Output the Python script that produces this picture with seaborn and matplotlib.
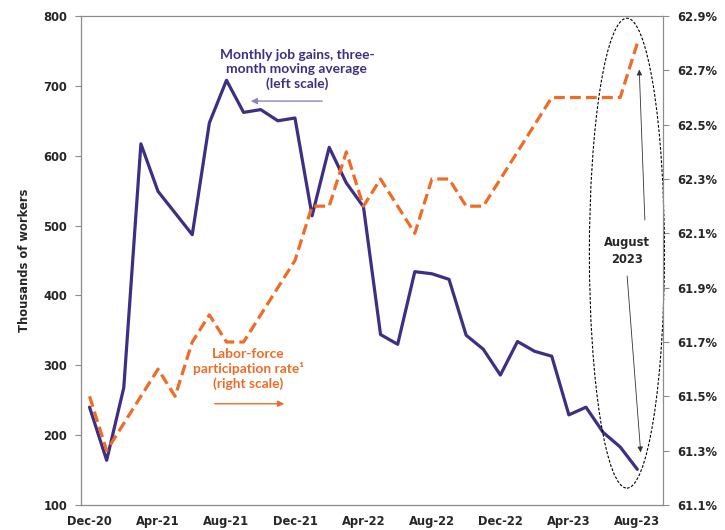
import numpy as np
import pandas as pd
import matplotlib
matplotlib.use("Agg")
import matplotlib.pyplot as plt
from matplotlib.patches import Ellipse
from matplotlib.ticker import FixedLocator, FuncFormatter
import seaborn as sns

# ---- data ----
months = pd.date_range("2020-12-01", "2023-08-01", freq="MS").strftime("%b-%y").tolist()

job_gains = [240, 164, 268, 617, 549, 518, 487, 647, 708, 662, 666, 650, 654,
             514, 612, 561, 527, 344, 330, 434, 431, 423, 343, 323, 286, 334,
             320, 313, 229, 240, 204, 183, 151]

participation = [61.5, 61.3, 61.4, 61.5, 61.6, 61.5, 61.7, 61.8, 61.7, 61.7,
                 61.8, 61.9, 62.0, 62.2, 62.2, 62.4, 62.2, 62.3, 62.2, 62.1,
                 62.3, 62.3, 62.2, 62.2, 62.3, 62.4, 62.5, 62.6, 62.6, 62.6,
                 62.6, 62.6, 62.8]

left_ticks = [100, 200, 300, 400, 500, 600, 700, 800]
right_ticks = [61.1, 61.3, 61.5, 61.7, 61.9, 62.1, 62.3, 62.5, 62.7, 62.9]

BLUE = "#3d2f84"
ORANGE = "#f06b25"
SPINE = "#8c8c8c"

sns.set_style("white")
plt.rcParams["font.family"] = ["DejaVu Sans"]

x = np.arange(len(months))

fig = plt.figure(figsize=(7.25, 5.3), dpi=100)
ax = fig.add_axes([0.1117, 0.0472, 0.8028, 0.9226])
ax2 = ax.twinx()

sns.lineplot(x=x, y=job_gains, ax=ax, color=BLUE, linewidth=2.3)
sns.lineplot(x=x, y=participation, ax=ax2, color=ORANGE, linewidth=2.3,
             linestyle=(0, (3.4, 1.6)))

# axes limits / ticks
ax.set_xlim(-0.5, len(months) + 0.5)
ax.set_ylim(100, 800)
ax2.set_ylim(61.1, 62.9)

ax.set_xticks(x[::4])
ax.set_xticklabels(months[::4])
ax.xaxis.set_minor_locator(FixedLocator(np.arange(-0.5, len(months) + 1, 1)))
ax.tick_params(axis="x", which="major", length=0, pad=7)
ax.tick_params(axis="x", which="minor", length=4, width=0.8, color=SPINE, direction="out")

ax.set_yticks(left_ticks)
ax.tick_params(axis="y", length=4, width=0.8, color=SPINE, direction="out", pad=6)
ax2.set_yticks(right_ticks)
ax2.yaxis.set_major_formatter(FuncFormatter(lambda v, p: f"{v:.1f}%"))
ax2.tick_params(axis="y", length=4, width=0.8, color=SPINE, direction="out", pad=6)

for a in (ax, ax2):
    for lab in a.get_xticklabels() + a.get_yticklabels():
        lab.set_fontweight("bold")
        lab.set_fontsize(8.3)
    for s in a.spines.values():
        s.set_visible(True)
        s.set_color(SPINE)
        s.set_linewidth(0.8)
ax.spines["left"].set_color("#666666")
ax.spines["bottom"].set_color("#666666")

ax.set_ylabel("Thousands of workers", fontsize=8.3, fontweight="bold", labelpad=9)
ax.set_xlabel("")
ax2.set_ylabel("")

# annotations
ax.text(0.371, 0.89, "Monthly job gains, three-\nmonth moving average\n(left scale)",
        transform=ax.transAxes, ha="center", va="center", color=BLUE,
        fontsize=9.9, fontweight="bold", family=["Lato", "DejaVu Sans"], linespacing=1.2)
ax.annotate("", xy=(0.287, 0.826), xytext=(0.419, 0.826), xycoords="axes fraction",
            arrowprops=dict(arrowstyle="-|>", color="#8a84c2", lw=1.0, mutation_scale=9))

ax.text(0.287, 0.278, "Labor-force\nparticipation rate\u00b9\n(right scale)",
        transform=ax.transAxes, ha="center", va="center", color=ORANGE,
        fontsize=9.9, fontweight="bold", family=["Lato", "DejaVu Sans"], linespacing=1.2)
ax.annotate("", xy=(0.354, 0.207), xytext=(0.225, 0.207), xycoords="axes fraction",
            arrowprops=dict(arrowstyle="-|>", color=ORANGE, lw=1.0, mutation_scale=9))

# highlight of August 2023
ell = Ellipse((0.938, 0.515), 0.129, 0.961, transform=ax2.transAxes, fill=False,
              edgecolor="black", linestyle=(0, (2.5, 1.5)), linewidth=0.8, clip_on=False)
ax2.add_patch(ell)
ax2.text(0.938, 0.519, "August\n2023", transform=ax2.transAxes, ha="center", va="center",
         fontsize=8.3, fontweight="bold", linespacing=1.4)
ax2.annotate("", xy=(0.959, 0.896), xytext=(0.969, 0.577), xycoords="axes fraction",
             arrowprops=dict(arrowstyle="-|>", color="#333333", lw=0.6, mutation_scale=8))
ax2.annotate("", xy=(0.962, 0.102), xytext=(0.938, 0.474), xycoords="axes fraction",
             arrowprops=dict(arrowstyle="-|>", color="#333333", lw=0.6, mutation_scale=8))

fig.savefig("out.png", dpi=100)
